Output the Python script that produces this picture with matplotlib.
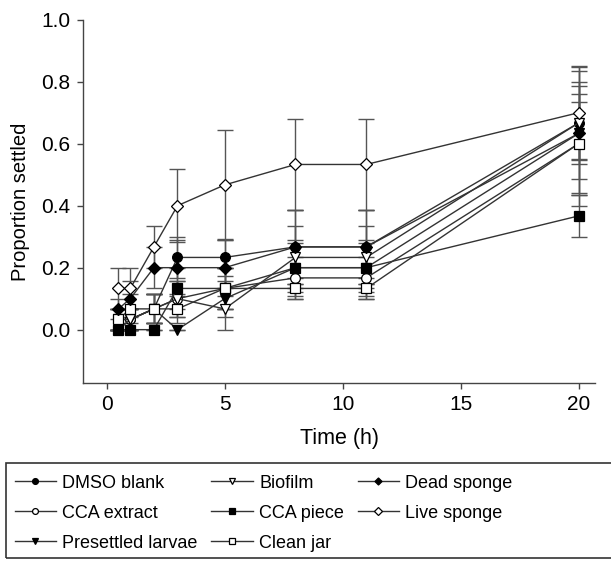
import numpy as np
import matplotlib
matplotlib.use('Agg')
import matplotlib.pyplot as plt
from matplotlib.patches import Rectangle

plt.rcParams['font.family'] = ['Liberation Sans', 'DejaVu Sans']

# sampling times (h)
time_h = [0.5, 1, 2, 3, 5, 8, 11, 20]

# mean proportion settled per treatment
dmso_blank = [0.0, 0.033, 0.067, 0.233, 0.233, 0.267, 0.267, 0.667]
cca_extract = [0.033, 0.033, 0.067, 0.1, 0.133, 0.167, 0.167, 0.6]
presettled = [0.0, 0.033, 0.067, 0.0, 0.1, 0.2, 0.2, 0.633]
biofilm = [0.033, 0.033, 0.067, 0.1, 0.067, 0.233, 0.233, 0.667]
cca_piece = [0.0, 0.0, 0.0, 0.133, 0.133, 0.2, 0.2, 0.367]
clean_jar = [0.033, 0.067, 0.067, 0.067, 0.133, 0.133, 0.133, 0.6]
dead_sponge = [0.067, 0.1, 0.2, 0.2, 0.2, 0.267, 0.267, 0.633]
live_sponge = [0.133, 0.133, 0.267, 0.4, 0.467, 0.533, 0.533, 0.7]

# standard errors
dmso_blank_se = [0.0, 0.033, 0.047, 0.067, 0.06, 0.12, 0.12, 0.18]
cca_extract_se = [0.033, 0.033, 0.047, 0.058, 0.067, 0.067, 0.067, 0.16]
presettled_se = [0.0, 0.033, 0.047, 0.0, 0.058, 0.08, 0.08, 0.1]
biofilm_se = [0.033, 0.033, 0.047, 0.058, 0.067, 0.1, 0.1, 0.12]
cca_piece_se = [0.0, 0.0, 0.0, 0.067, 0.067, 0.09, 0.09, 0.067]
clean_jar_se = [0.033, 0.047, 0.047, 0.047, 0.067, 0.033, 0.033, 0.2]
dead_sponge_se = [0.033, 0.058, 0.067, 0.09, 0.09, 0.12, 0.12, 0.2]
live_sponge_se = [0.067, 0.067, 0.067, 0.117, 0.177, 0.147, 0.147, 0.15]

labels = ['DMSO blank', 'CCA extract', 'Presettled larvae',
          'Biofilm', 'CCA piece', 'Clean jar',
          'Dead sponge', 'Live sponge']
means = [dmso_blank, cca_extract, presettled, biofilm, cca_piece,
         clean_jar, dead_sponge, live_sponge]
errs = [dmso_blank_se, cca_extract_se, presettled_se, biofilm_se,
        cca_piece_se, clean_jar_se, dead_sponge_se, live_sponge_se]
markers = ['o', 'o', 'v', 'v', 's', 's', 'D', 'D']
faces = ['black', 'white', 'black', 'white', 'black', 'white', 'black', 'white']
sizes = [7, 7, 7.5, 7.5, 6.5, 6.5, 6, 6.5]

fig = plt.figure(figsize=(6.11, 5.64), dpi=100)
ax = fig.add_axes([0.136, 0.321, 0.838, 0.644])

handles = []
for y, e, m, fc, ms, lab in zip(means, errs, markers, faces, sizes, labels):
    ax.errorbar(time_h, y, yerr=e, fmt='none', ecolor='#555555',
                elinewidth=1.0, capsize=6, capthick=1.0, zorder=1)
    h, = ax.plot(time_h, y, color='#333333', lw=1.0, marker=m, ms=ms,
                 mfc=fc, mec='black', mew=0.9, label=lab, zorder=3)
    handles.append(h)

ax.set_xlim(-1, 20.7)
ax.set_ylim(-0.172, 1.0)
ax.set_xticks([0, 5, 10, 15, 20])
ax.set_yticks([0.0, 0.2, 0.4, 0.6, 0.8, 1.0])
ax.set_yticklabels(['0.0', '0.2', '0.4', '0.6', '0.8', '1.0'])
for side in ['top', 'right']:
    ax.spines[side].set_visible(False)
for side in ['left', 'bottom']:
    ax.spines[side].set_color('#444444')
    ax.spines[side].set_linewidth(1.0)
ax.tick_params(direction='out', length=4, width=1, colors='#444444',
               labelcolor='black', labelsize=15, pad=5)
ax.set_xlabel('Time (h)', fontsize=15.5, labelpad=10)
ax.set_ylabel('Proportion settled', fontsize=14.5, labelpad=8)

leg = fig.legend(handles=handles, ncol=3, loc='upper left',
                 bbox_to_anchor=(0.012, 0.171), frameon=False,
                 fontsize=13, handlelength=2.3, handletextpad=0.35,
                 columnspacing=0.75, labelspacing=0.72, markerscale=0.6,
                 borderaxespad=0)

fig.patches.append(Rectangle((0.01, 0.011), 1.0, 0.168,
                             transform=fig.transFigure, fill=False,
                             edgecolor='#333333', lw=1.2))

fig.savefig('out.png', dpi=100)
